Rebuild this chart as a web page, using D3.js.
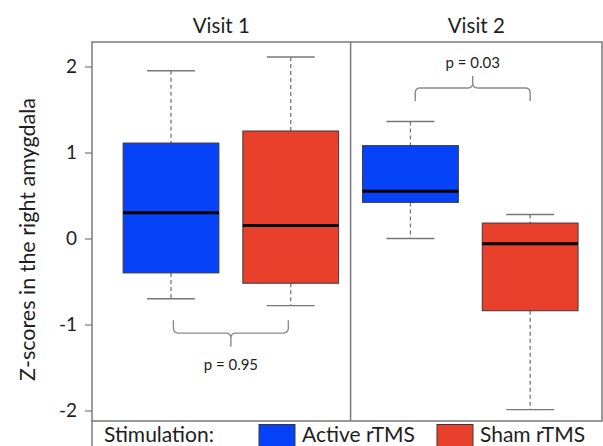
<!DOCTYPE html>
<html>
<head>
<meta charset="utf-8">
<script src="https://cdn.jsdelivr.net/npm/d3@7"></script>
<style>
  html, body { margin: 0; padding: 0; background: #fff; }
  svg { display: block; font-family: Lato, "Open Sans", sans-serif; }
</style>
</head>
<body>
<svg id="chart" width="603" height="446"></svg>
<script>
// Box summaries: Z-scores in the right amygdala by visit and stimulation
const visits = ["Visit 1", "Visit 2"];
const stimulation = ["Active rTMS", "Sham rTMS"];
const positions = [1, 2, 3, 4];
const boxVisit = ["Visit 1", "Visit 1", "Visit 2", "Visit 2"];
const boxStim = ["Active rTMS", "Sham rTMS", "Active rTMS", "Sham rTMS"];
const whiskerLow = [-0.70, -0.78, 0.00, -1.99];
const q1 = [-0.40, -0.52, 0.42, -0.84];
const median = [0.30, 0.15, 0.55, -0.06];
const q3 = [1.11, 1.25, 1.08, 0.18];
const whiskerHigh = [1.95, 2.11, 1.36, 0.28];

// Significance brackets (x from/to in box positions, y levels in z units)
const bracketFrom = [1.02, 3.04];
const bracketTo = [1.98, 4.00];
const bracketLeg = [-0.95, 1.60];
const bracketBar = [-1.10, 1.75];
const bracketTip = [-1.26, 1.89];
const bracketLabel = ["p = 0.95", "p = 0.03"];
const bracketLabelY = [-1.53, 1.98];

const yTicks = [-2, -1, 0, 1, 2];

const colors = { "Active rTMS": "#0642f7", "Sham rTMS": "#e8402a" };

const svg = d3.select("#chart");
const plotLeft = 92, plotRight = 602, plotTop = 42, plotBottom = 421;

const x = d3.scaleLinear().domain([0.34, 4.6]).range([plotLeft, plotRight]);
const y = d3.scaleLinear().domain([-2.122, 2.285]).range([plotBottom, plotTop]);
const boxW = x(0.8) - x(0);
const capW = x(0.4) - x(0);

const frameColor = "#7a7a7a";
const textColor = "#1e1e1e";

// Panel frame and divider between visits
svg.append("rect")
  .attr("x", plotLeft).attr("y", plotTop)
  .attr("width", plotRight - plotLeft).attr("height", plotBottom - plotTop)
  .attr("fill", "none").attr("stroke", frameColor).attr("stroke-width", 1.5);
const divX = x(2.5);
svg.append("line")
  .attr("x1", divX).attr("x2", divX).attr("y1", plotTop).attr("y2", plotBottom)
  .attr("stroke", frameColor).attr("stroke-width", 1.5);

// Legend strip continues the frame downwards
svg.append("line")
  .attr("x1", plotLeft).attr("x2", plotLeft).attr("y1", plotBottom).attr("y2", 446)
  .attr("stroke", frameColor).attr("stroke-width", 1.5);

// Visit titles centred over each panel
const panelCenters = [(plotLeft + divX) / 2, (divX + plotRight) / 2];
svg.selectAll("text.visit").data(visits).join("text")
  .attr("class", "visit")
  .attr("x", (d, i) => panelCenters[i])
  .attr("y", 33)
  .attr("text-anchor", "middle")
  .attr("font-size", 20.5)
  .attr("fill", textColor)
  .text(d => d);

// Y axis
const yAxis = d3.axisLeft(y).tickValues(yTicks).tickSize(7).tickPadding(8)
  .tickFormat(d3.format("d"));
const ax = svg.append("g").attr("transform", `translate(${plotLeft},0)`).call(yAxis);
ax.select(".domain").remove();
ax.selectAll(".tick line").attr("stroke", frameColor).attr("stroke-width", 1.2);
ax.selectAll(".tick text").attr("font-size", 19).attr("fill", textColor)
  .attr("font-family", "Lato, 'Open Sans', sans-serif")
  .text(d => d < 0 ? "-" + Math.abs(d) : d);

svg.append("text")
  .attr("transform", `translate(35, ${(plotTop + plotBottom) / 2 + 8}) rotate(-90)`)
  .attr("text-anchor", "middle")
  .attr("font-size", 21.5)
  .attr("fill", textColor)
  .text("Z-scores in the right amygdala");

// Boxes
const boxes = positions.map((p, i) => ({
  pos: p, visit: boxVisit[i], stim: boxStim[i],
  lo: whiskerLow[i], q1: q1[i], med: median[i], q3: q3[i], hi: whiskerHigh[i]
}));

const g = svg.append("g");
const bx = g.selectAll("g.box").data(boxes).join("g").attr("class", "box");

// dashed whiskers
bx.append("line")
  .attr("x1", d => x(d.pos)).attr("x2", d => x(d.pos))
  .attr("y1", d => y(d.hi)).attr("y2", d => y(d.q3))
  .attr("stroke", "#777").attr("stroke-width", 1.3).attr("stroke-dasharray", "4,3");
bx.append("line")
  .attr("x1", d => x(d.pos)).attr("x2", d => x(d.pos))
  .attr("y1", d => y(d.q1)).attr("y2", d => y(d.lo))
  .attr("stroke", "#777").attr("stroke-width", 1.3).attr("stroke-dasharray", "4,3");
// whisker caps
bx.append("line")
  .attr("x1", d => x(d.pos) - capW / 2).attr("x2", d => x(d.pos) + capW / 2)
  .attr("y1", d => y(d.hi)).attr("y2", d => y(d.hi))
  .attr("stroke", "#777").attr("stroke-width", 1.4);
bx.append("line")
  .attr("x1", d => x(d.pos) - capW / 2).attr("x2", d => x(d.pos) + capW / 2)
  .attr("y1", d => y(d.lo)).attr("y2", d => y(d.lo))
  .attr("stroke", "#777").attr("stroke-width", 1.4);
// interquartile box
bx.append("rect")
  .attr("x", d => x(d.pos) - boxW / 2).attr("width", boxW)
  .attr("y", d => y(d.q3)).attr("height", d => y(d.q1) - y(d.q3))
  .attr("fill", d => colors[d.stim])
  .attr("stroke", "#3a3a3a").attr("stroke-width", 1);
// median
bx.append("line")
  .attr("x1", d => x(d.pos) - boxW / 2).attr("x2", d => x(d.pos) + boxW / 2)
  .attr("y1", d => y(d.med)).attr("y2", d => y(d.med))
  .attr("stroke", "#000").attr("stroke-width", 3);

// Curly brackets with p-values
function bracePath(x1, x2, yLeg, yBar, yTip) {
  const xm = (x1 + x2) / 2;
  const s = yBar < yLeg ? -1 : 1; // direction from leg end towards bar
  const r = 5;
  return [
    `M${x1},${yLeg}`,
    `L${x1},${yBar - s * r}`,
    `Q${x1},${yBar} ${x1 + r},${yBar}`,
    `L${xm - r},${yBar}`,
    `Q${xm},${yBar} ${xm},${yBar + s * r}`,
    `L${xm},${yTip}`,
    `M${xm},${yBar + s * r}`,
    `Q${xm},${yBar} ${xm + r},${yBar}`,
    `L${x2 - r},${yBar}`,
    `Q${x2},${yBar} ${x2},${yBar - s * r}`,
    `L${x2},${yLeg}`
  ].join(" ");
}

bracketLabel.forEach((lab, i) => {
  const x1 = x(bracketFrom[i]), x2 = x(bracketTo[i]);
  svg.append("path")
    .attr("d", bracePath(x1, x2, y(bracketLeg[i]), y(bracketBar[i]), y(bracketTip[i])))
    .attr("fill", "none").attr("stroke", "#8a8a8a").attr("stroke-width", 1.4);
  svg.append("text")
    .attr("x", (x1 + x2) / 2)
    .attr("y", y(bracketLabelY[i]))
    .attr("text-anchor", "middle")
    .attr("font-size", 15)
    .attr("fill", textColor)
    .text(lab);
});

// Legend
const legY = 441.5;
svg.append("text")
  .attr("x", 104).attr("y", legY)
  .attr("font-size", 21).attr("fill", textColor)
  .text("Stimulation:");
const legX = [259, 437];
stimulation.forEach((s, i) => {
  svg.append("rect")
    .attr("x", legX[i]).attr("y", 424.5)
    .attr("width", 36).attr("height", 30)
    .attr("fill", colors[s]).attr("stroke", "#3a3a3a").attr("stroke-width", 1);
  svg.append("text")
    .attr("x", legX[i] + 43).attr("y", legY)
    .attr("font-size", 21).attr("fill", textColor)
    .text(s);
});
</script>
</body>
</html>
